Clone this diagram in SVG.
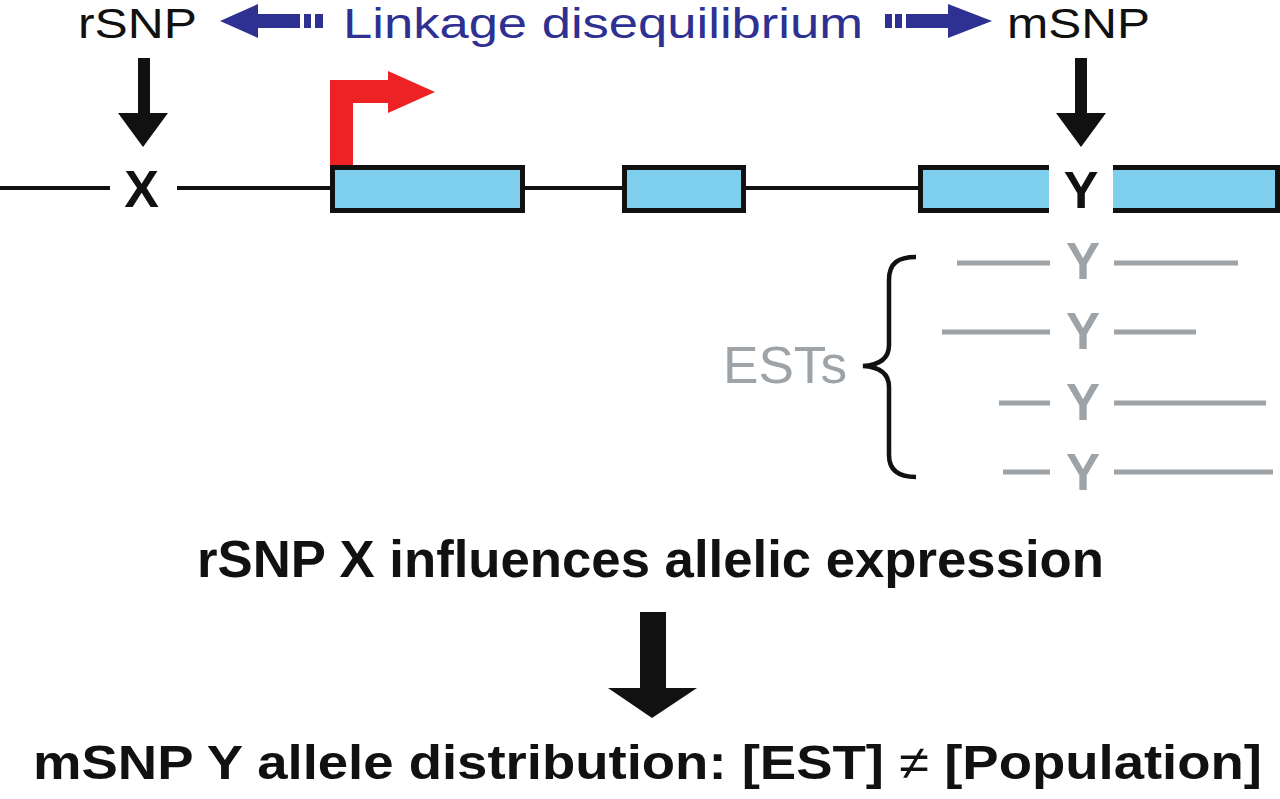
<svg xmlns="http://www.w3.org/2000/svg" width="1280" height="799" viewBox="0 0 1280 799">
<style>
.lbl{font-family:"Liberation Sans",Arial,sans-serif;font-size:43px;fill:#111}
.blue{fill:#2E3192}
.bold{font-family:"Liberation Sans",Arial,sans-serif;font-weight:bold;fill:#111}
.gray{fill:#9EA3A8}
.grayline{stroke:#9EA3A8;stroke-width:5}
.gene{stroke:#111;stroke-width:4;fill:none}
.exon{fill:#7ECFEE}
.border{stroke:#111;stroke-width:5;fill:none}
</style>
<rect width="1280" height="799" fill="#fff"/>
<g id="labels">
<text class="lbl" x="78" y="38" textLength="119" lengthAdjust="spacingAndGlyphs">rSNP</text>
<text class="lbl blue" x="343" y="38" textLength="520" lengthAdjust="spacingAndGlyphs">Linkage disequilibrium</text>
<text class="lbl" x="1007" y="38" textLength="143" lengthAdjust="spacingAndGlyphs">mSNP</text>
</g>
<g id="connectors">
<g id="ld-left" class="blue">
<polygon points="220,21 258,4 258,38"/>
<rect x="257" y="14" width="43" height="14"/>
<rect x="304" y="14" width="7" height="14"/>
<rect x="315" y="14" width="8" height="14"/>
</g>
<g id="ld-right" class="blue">
<rect x="885" y="14" width="7" height="14"/>
<rect x="895" y="14" width="7" height="14"/>
<rect x="906" y="14" width="43" height="14"/>
<polygon points="992,21 948,4 948,38"/>
</g>
<g id="arrow-x" fill="#111">
<rect x="138" y="58" width="12" height="56"/>
<polygon points="118,113 168,113 143,147"/>
</g>
<g id="arrow-y" fill="#111">
<rect x="1075" y="58" width="12" height="56"/>
<polygon points="1056,113 1106,113 1081,147"/>
</g>
<g id="arrow-big" fill="#111">
<rect x="640" y="612" width="26" height="77"/>
<polygon points="608,688 697,688 652,718"/>
</g>
</g>
<g id="gene">
<line class="gene" x1="0" y1="188" x2="110" y2="188"/>
<line class="gene" x1="177" y1="188" x2="332" y2="188"/>
<line class="gene" x1="523" y1="188" x2="624" y2="188"/>
<line class="gene" x1="744" y1="188" x2="920" y2="188"/>
<text class="bold" x="141.5" y="207" font-size="52" text-anchor="middle">X</text>
<polygon id="tss" fill="#ED2224" points="330,167 330,80 388,80 388,71 435,92 388,113 388,103 353,103 353,167"/>
<g id="exon1"><rect class="exon" x="332.5" y="167.5" width="190" height="43"/><rect class="border" x="332.5" y="167.5" width="190" height="43"/></g>
<g id="exon2"><rect class="exon" x="624.5" y="167.5" width="119" height="43"/><rect class="border" x="624.5" y="167.5" width="119" height="43"/></g>
<g id="exon3"><rect class="exon" x="920" y="167.5" width="129" height="43"/><path class="border" d="M1049,167.5 H920.5 V210.5 H1049"/></g>
<text class="bold" x="1081" y="208" font-size="52" text-anchor="middle">Y</text>
<g id="exon4"><rect class="exon" x="1113" y="167.5" width="164" height="43"/><path class="border" d="M1113,167.5 H1277.5 V210.5 H1113"/></g>
</g>
<g id="ests">
<text class="gray" x="723" y="383" font-family="Liberation Sans, Arial, sans-serif" font-size="51" textLength="124" lengthAdjust="spacingAndGlyphs">ESTs</text>
<path d="M916,257 C898,257 889,263 889,280 L889,345 C889,358 880,365 863,366 C880,367 889,374 889,387 L889,455 C889,470 898,477 916,477" stroke="#111" stroke-width="4.5" fill="none"/>
<g id="est1"><line class="grayline" x1="957" y1="263" x2="1050" y2="263"/><text class="bold gray" x="1083" y="279" font-size="51" text-anchor="middle">Y</text><line class="grayline" x1="1114" y1="263" x2="1238" y2="263"/></g>
<g id="est2"><line class="grayline" x1="942" y1="332" x2="1050" y2="332"/><text class="bold gray" x="1083" y="349" font-size="51" text-anchor="middle">Y</text><line class="grayline" x1="1114" y1="332" x2="1196" y2="332"/></g>
<g id="est3"><line class="grayline" x1="999" y1="403" x2="1050" y2="403"/><text class="bold gray" x="1083" y="420" font-size="51" text-anchor="middle">Y</text><line class="grayline" x1="1114" y1="403" x2="1266" y2="403"/></g>
<g id="est4"><line class="grayline" x1="1003" y1="472" x2="1050" y2="472"/><text class="bold gray" x="1083" y="490" font-size="51" text-anchor="middle">Y</text><line class="grayline" x1="1114" y1="472" x2="1273" y2="472"/></g>
</g>
<g id="statement1">
<text class="bold" x="197" y="577" font-size="52" textLength="907" lengthAdjust="spacingAndGlyphs">rSNP X influences allelic expression</text>
</g>
<g id="statement2">
<text class="bold" x="33" y="779" font-size="48" textLength="1229" lengthAdjust="spacingAndGlyphs">mSNP Y allele distribution: [EST] <tspan font-weight="normal">≠</tspan> [Population]</text>
</g>
</svg>
